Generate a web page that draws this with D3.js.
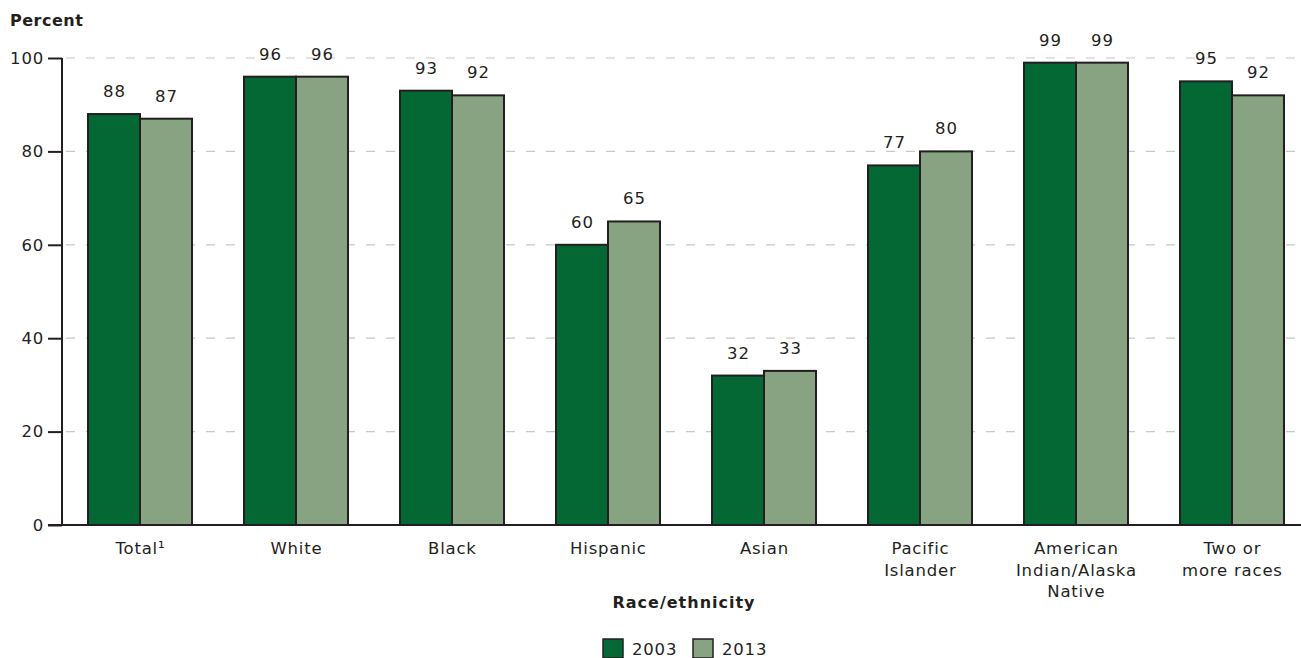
<!DOCTYPE html>
<html><head><meta charset="utf-8">
<script src="https://cdn.jsdelivr.net/npm/d3@7"></script>
<style>body{margin:0;background:#fff}svg{display:block;font-family:"DejaVu Sans",sans-serif}</style>
</head><body><svg id="c" width="1301" height="658"></svg>
<script>
const categories = ["Total¹","White","Black","Hispanic","Asian","Pacific Islander","American Indian/Alaska Native","Two or more races"];
const categoryLines = [["Total¹"],["White"],["Black"],["Hispanic"],["Asian"],["Pacific","Islander"],["American","Indian/Alaska","Native"],["Two or","more races"]];
const series = ["2003","2013"];
const values2003 = [88,96,93,60,32,77,99,95];
const values2013 = [87,96,92,65,33,80,99,92];
const yTicks = [0,20,40,60,80,100];
const colors = ["#046835","#87a382"];

const svg = d3.select("#c");
const x0 = d3.scaleBand().domain(categories).range([62,1310]).paddingInner(1/3).paddingOuter(1/6);
const x1 = d3.scaleBand().domain(series).range([0,x0.bandwidth()]);
const y = d3.scaleLinear().domain([0,100]).range([525,58]);
const ink = "#231f20";
const fs = 16.5;
const ls = 0.8;

// gridlines
svg.append("g").selectAll("line").data(yTicks.filter(d=>d>0)).join("line")
  .attr("x1",62).attr("x2",1295).attr("y1",d=>y(d)).attr("y2",d=>y(d))
  .attr("stroke","#c8c8c8").attr("stroke-width",1.2).attr("stroke-dasharray","9,11").attr("stroke-dashoffset",-4);

const data = categories.map((c,i)=>({c, v:[values2003[i],values2013[i]]}));
const g = svg.append("g").selectAll("g").data(data).join("g").attr("transform",d=>`translate(${x0(d.c)},0)`);
g.selectAll("rect").data(d=>d.v.map((v,j)=>({s:series[j],v,j}))).join("rect")
  .attr("x",d=>x1(d.s)).attr("width",x1.bandwidth()).attr("y",d=>y(d.v)).attr("height",d=>y(0)-y(d.v))
  .attr("fill",d=>colors[d.j]).attr("stroke",ink).attr("stroke-width",2);
g.selectAll("text").data(d=>d.v.map((v,j)=>({s:series[j],v}))).join("text")
  .attr("x",d=>x1(d.s)+x1.bandwidth()/2+ls/2).attr("y",d=>y(d.v)-17).attr("text-anchor","middle")
  .attr("font-size",fs).attr("letter-spacing",ls).attr("fill",ink).text(d=>d.v);

// y axis
const ya = svg.append("g").attr("transform","translate(62,0)")
  .call(d3.axisLeft(y).tickValues(yTicks).tickSize(14).tickPadding(4));
ya.select(".domain").attr("stroke",ink).attr("stroke-width",2).attr("d","M0,"+y(100)+"V"+(y(0)));
ya.selectAll(".tick line").attr("stroke",ink).attr("stroke-width",2);
ya.selectAll(".tick text").attr("font-size",fs).attr("letter-spacing",ls).attr("fill",ink).attr("font-family","DejaVu Sans, sans-serif");

// x axis baseline
svg.append("line").attr("x1",48).attr("x2",1301).attr("y1",y(0)).attr("y2",y(0)).attr("stroke",ink).attr("stroke-width",2);

// x labels
const xl = svg.append("g").selectAll("text").data(categories).join("text")
  .attr("x",d=>x0(d)+x0.bandwidth()/2).attr("y",554).attr("text-anchor","middle").attr("font-size",fs).attr("letter-spacing",ls).attr("fill",ink);
xl.each(function(d,i){
  d3.select(this).selectAll("tspan").data(categoryLines[i]).join("tspan")
    .attr("x",x0(d)+x0.bandwidth()/2+ls/2).attr("dy",(l,k)=>k===0?0:21.5).text(l=>l);
});

// titles
svg.append("text").attr("x",10).attr("y",26).attr("font-size",16).attr("letter-spacing",0.5).attr("font-weight","bold").attr("fill",ink).text("Percent");
svg.append("text").attr("x",684).attr("y",608).attr("text-anchor","middle").attr("font-size",16).attr("letter-spacing",1).attr("font-weight","bold").attr("fill",ink).text("Race/ethnicity");

// legend
const lg = svg.append("g").selectAll("g").data(series).join("g").attr("transform",(d,i)=>`translate(${603+i*90},639)`);
lg.append("rect").attr("width",20).attr("height",19).attr("fill",(d,i)=>colors[i]).attr("stroke",ink).attr("stroke-width",1.5);
lg.append("text").attr("x",29).attr("y",16).attr("font-size",fs).attr("letter-spacing",ls).attr("fill",ink).text(d=>d);
</script></body></html>
